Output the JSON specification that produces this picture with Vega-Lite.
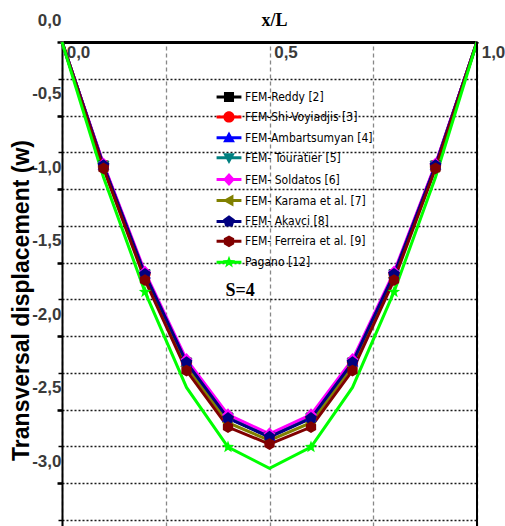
{
  "$schema": "https://vega.github.io/schema/vega-lite/v6.json",
  "width": 415,
  "height": 484,
  "autosize": {"type": "none"},
  "padding": {"left": 62, "top": 42, "right": 28, "bottom": 0},
  "background": "white",
  "config": {
    "view": {"stroke": null},
    "locale": {"number": {"decimal": ",", "thousands": ".", "grouping": [3], "currency": ["", ""], "minus": "-"}}
  },
  "resolve": {
    "axis": {"y": "independent"},
    "scale": {"shape": "independent"},
    "legend": {"color": "independent", "shape": "independent"}
  },
  "datasets": {
    "curves": [
      {"series": "FEM-Reddy [2]", "x": 0, "w": 0},
      {"series": "FEM-Reddy [2]", "x": 0.1, "w": -0.84},
      {"series": "FEM-Reddy [2]", "x": 0.2, "w": -1.58},
      {"series": "FEM-Reddy [2]", "x": 0.3, "w": -2.18},
      {"series": "FEM-Reddy [2]", "x": 0.4, "w": -2.555},
      {"series": "FEM-Reddy [2]", "x": 0.5, "w": -2.685},
      {"series": "FEM-Reddy [2]", "x": 0.6, "w": -2.555},
      {"series": "FEM-Reddy [2]", "x": 0.7, "w": -2.18},
      {"series": "FEM-Reddy [2]", "x": 0.8, "w": -1.58},
      {"series": "FEM-Reddy [2]", "x": 0.9, "w": -0.84},
      {"series": "FEM-Reddy [2]", "x": 1, "w": 0},
      {"series": "FEM-Shi-Voyiadjis [3]", "x": 0, "w": 0},
      {"series": "FEM-Shi-Voyiadjis [3]", "x": 0.1, "w": -0.838},
      {"series": "FEM-Shi-Voyiadjis [3]", "x": 0.2, "w": -1.578},
      {"series": "FEM-Shi-Voyiadjis [3]", "x": 0.3, "w": -2.178},
      {"series": "FEM-Shi-Voyiadjis [3]", "x": 0.4, "w": -2.553},
      {"series": "FEM-Shi-Voyiadjis [3]", "x": 0.5, "w": -2.68},
      {"series": "FEM-Shi-Voyiadjis [3]", "x": 0.6, "w": -2.553},
      {"series": "FEM-Shi-Voyiadjis [3]", "x": 0.7, "w": -2.178},
      {"series": "FEM-Shi-Voyiadjis [3]", "x": 0.8, "w": -1.578},
      {"series": "FEM-Shi-Voyiadjis [3]", "x": 0.9, "w": -0.838},
      {"series": "FEM-Shi-Voyiadjis [3]", "x": 1, "w": 0},
      {"series": "FEM-Ambartsumyan [4]", "x": 0, "w": 0},
      {"series": "FEM-Ambartsumyan [4]", "x": 0.1, "w": -0.838},
      {"series": "FEM-Ambartsumyan [4]", "x": 0.2, "w": -1.578},
      {"series": "FEM-Ambartsumyan [4]", "x": 0.3, "w": -2.178},
      {"series": "FEM-Ambartsumyan [4]", "x": 0.4, "w": -2.553},
      {"series": "FEM-Ambartsumyan [4]", "x": 0.5, "w": -2.682},
      {"series": "FEM-Ambartsumyan [4]", "x": 0.6, "w": -2.553},
      {"series": "FEM-Ambartsumyan [4]", "x": 0.7, "w": -2.178},
      {"series": "FEM-Ambartsumyan [4]", "x": 0.8, "w": -1.578},
      {"series": "FEM-Ambartsumyan [4]", "x": 0.9, "w": -0.838},
      {"series": "FEM-Ambartsumyan [4]", "x": 1, "w": 0},
      {"series": "FEM- Touratier [5]", "x": 0, "w": 0},
      {"series": "FEM- Touratier [5]", "x": 0.1, "w": -0.84},
      {"series": "FEM- Touratier [5]", "x": 0.2, "w": -1.58},
      {"series": "FEM- Touratier [5]", "x": 0.3, "w": -2.18},
      {"series": "FEM- Touratier [5]", "x": 0.4, "w": -2.555},
      {"series": "FEM- Touratier [5]", "x": 0.5, "w": -2.685},
      {"series": "FEM- Touratier [5]", "x": 0.6, "w": -2.555},
      {"series": "FEM- Touratier [5]", "x": 0.7, "w": -2.18},
      {"series": "FEM- Touratier [5]", "x": 0.8, "w": -1.58},
      {"series": "FEM- Touratier [5]", "x": 0.9, "w": -0.84},
      {"series": "FEM- Touratier [5]", "x": 1, "w": 0},
      {"series": "FEM- Soldatos [6]", "x": 0, "w": 0},
      {"series": "FEM- Soldatos [6]", "x": 0.1, "w": -0.83},
      {"series": "FEM- Soldatos [6]", "x": 0.2, "w": -1.565},
      {"series": "FEM- Soldatos [6]", "x": 0.3, "w": -2.16},
      {"series": "FEM- Soldatos [6]", "x": 0.4, "w": -2.535},
      {"series": "FEM- Soldatos [6]", "x": 0.5, "w": -2.665},
      {"series": "FEM- Soldatos [6]", "x": 0.6, "w": -2.535},
      {"series": "FEM- Soldatos [6]", "x": 0.7, "w": -2.16},
      {"series": "FEM- Soldatos [6]", "x": 0.8, "w": -1.565},
      {"series": "FEM- Soldatos [6]", "x": 0.9, "w": -0.83},
      {"series": "FEM- Soldatos [6]", "x": 1, "w": 0},
      {"series": "FEM- Karama et al. [7]", "x": 0, "w": 0},
      {"series": "FEM- Karama et al. [7]", "x": 0.1, "w": -0.85},
      {"series": "FEM- Karama et al. [7]", "x": 0.2, "w": -1.6},
      {"series": "FEM- Karama et al. [7]", "x": 0.3, "w": -2.205},
      {"series": "FEM- Karama et al. [7]", "x": 0.4, "w": -2.59},
      {"series": "FEM- Karama et al. [7]", "x": 0.5, "w": -2.71},
      {"series": "FEM- Karama et al. [7]", "x": 0.6, "w": -2.59},
      {"series": "FEM- Karama et al. [7]", "x": 0.7, "w": -2.205},
      {"series": "FEM- Karama et al. [7]", "x": 0.8, "w": -1.6},
      {"series": "FEM- Karama et al. [7]", "x": 0.9, "w": -0.85},
      {"series": "FEM- Karama et al. [7]", "x": 1, "w": 0},
      {"series": "FEM- Akavci [8]", "x": 0, "w": 0},
      {"series": "FEM- Akavci [8]", "x": 0.1, "w": -0.84},
      {"series": "FEM- Akavci [8]", "x": 0.2, "w": -1.58},
      {"series": "FEM- Akavci [8]", "x": 0.3, "w": -2.18},
      {"series": "FEM- Akavci [8]", "x": 0.4, "w": -2.56},
      {"series": "FEM- Akavci [8]", "x": 0.5, "w": -2.687},
      {"series": "FEM- Akavci [8]", "x": 0.6, "w": -2.56},
      {"series": "FEM- Akavci [8]", "x": 0.7, "w": -2.18},
      {"series": "FEM- Akavci [8]", "x": 0.8, "w": -1.58},
      {"series": "FEM- Akavci [8]", "x": 0.9, "w": -0.84},
      {"series": "FEM- Akavci [8]", "x": 1, "w": 0},
      {"series": "FEM- Ferreira et al. [9]", "x": 0, "w": 0},
      {"series": "FEM- Ferreira et al. [9]", "x": 0.1, "w": -0.86},
      {"series": "FEM- Ferreira et al. [9]", "x": 0.2, "w": -1.62},
      {"series": "FEM- Ferreira et al. [9]", "x": 0.3, "w": -2.235},
      {"series": "FEM- Ferreira et al. [9]", "x": 0.4, "w": -2.62},
      {"series": "FEM- Ferreira et al. [9]", "x": 0.5, "w": -2.735},
      {"series": "FEM- Ferreira et al. [9]", "x": 0.6, "w": -2.62},
      {"series": "FEM- Ferreira et al. [9]", "x": 0.7, "w": -2.235},
      {"series": "FEM- Ferreira et al. [9]", "x": 0.8, "w": -1.62},
      {"series": "FEM- Ferreira et al. [9]", "x": 0.9, "w": -0.86},
      {"series": "FEM- Ferreira et al. [9]", "x": 1, "w": 0},
      {"series": "Pagano [12]", "x": 0, "w": 0},
      {"series": "Pagano [12]", "x": 0.1, "w": -0.92},
      {"series": "Pagano [12]", "x": 0.2, "w": -1.7},
      {"series": "Pagano [12]", "x": 0.3, "w": -2.35},
      {"series": "Pagano [12]", "x": 0.4, "w": -2.755},
      {"series": "Pagano [12]", "x": 0.5, "w": -2.9},
      {"series": "Pagano [12]", "x": 0.6, "w": -2.755},
      {"series": "Pagano [12]", "x": 0.7, "w": -2.35},
      {"series": "Pagano [12]", "x": 0.8, "w": -1.7},
      {"series": "Pagano [12]", "x": 0.9, "w": -0.92},
      {"series": "Pagano [12]", "x": 1, "w": 0}
    ],
    "note": [{"x": 0.429, "w": -1.694, "label": "S=4"}]
  },
  "layer": [
    {
      "data": {"name": "note"},
      "mark": {"type": "text", "font": "Liberation Serif", "fontWeight": "bold", "fontSize": 18, "baseline": "middle", "align": "center", "color": "black"},
      "encoding": {
        "x": {"field": "x", "type": "quantitative", "scale": {"domain": [0, 1], "nice": false, "zero": false}},
        "y": {
          "field": "w", "type": "quantitative",
          "scale": {"domain": [-3.2925, 0], "nice": false, "zero": false},
          "axis": {
            "orient": "left",
            "values": [-0.25, -0.5, -0.75, -1, -1.25, -1.5, -1.75, -2, -2.25, -2.5, -2.75, -3, -3.25],
            "grid": true, "gridColor": "#1a1a1a", "gridDash": [2, 2], "gridWidth": 1.3,
            "domain": false, "labels": false,
            "ticks": true, "tickColor": "black", "tickSize": 4, "tickWidth": 1.5,
            "title": null
          }
        },
        "text": {"field": "label"}
      }
    },
    {
      "data": {"name": "curves"},
      "mark": {"type": "line", "strokeWidth": 3},
      "encoding": {
        "x": {
          "field": "x", "type": "quantitative",
          "scale": {"domain": [0, 1], "nice": false, "zero": false},
          "axis": {
            "orient": "top",
            "values": [0, 0.25, 0.5, 0.75, 1],
            "grid": true, "gridColor": "#888888", "gridDash": [4, 3], "gridWidth": 1.3,
            "domain": true, "domainColor": "black", "domainWidth": 3,
            "ticks": false,
            "labelExpr": "(datum.value == 0.25 || datum.value == 0.75) ? '' : format(datum.value, '.1f')",
            "labelFont": "Liberation Sans", "labelFontSize": 17, "labelFontWeight": "bold", "labelColor": "#3a3a3a",
            "labelPadding": -10, "labelBaseline": "middle", "labelOffset": 16, "labelAlign": "center",
            "labelOverlap": false, "labelFlush": false, "labelBound": false,
            "title": "x/L", "titleFont": "Liberation Serif", "titleFontSize": 18, "titleFontWeight": "bold", "titleColor": "black",
            "titleX": 212, "titleY": -17, "titleBaseline": "alphabetic", "titleAlign": "center"
          }
        },
        "y": {
          "field": "w", "type": "quantitative",
          "scale": {"domain": [-3.2925, 0], "nice": false, "zero": false},
          "axis": {
            "orient": "left",
            "values": [0, -0.5, -1, -1.5, -2, -2.5, -3],
            "format": ".1f",
            "grid": false,
            "domain": true, "domainColor": "black", "domainWidth": 2,
            "ticks": true, "tickColor": "black", "tickSize": 5, "tickWidth": 2.5,
            "labelFont": "Liberation Sans", "labelFontSize": 17, "labelFontWeight": "bold", "labelColor": "#3a3a3a",
            "labelPadding": -4, "labelOffset": -22, "labelBaseline": "middle", "labelAlign": "right",
            "labelOverlap": false, "labelFlush": false, "labelBound": false,
            "title": "Transversal displacement (w)", "titleFont": "Liberation Sans", "titleFontSize": 23, "titleFontWeight": "bold", "titleColor": "black",
            "titleX": -34, "titleY": 258, "titleAngle": 270, "titleAlign": "center", "titleBaseline": "alphabetic"
          }
        },
        "color": {
          "field": "series", "type": "nominal",
          "scale": {
            "domain": ["FEM-Reddy [2]", "FEM-Shi-Voyiadjis [3]", "FEM-Ambartsumyan [4]", "FEM- Touratier [5]", "FEM- Soldatos [6]", "FEM- Karama et al. [7]", "FEM- Akavci [8]", "FEM- Ferreira et al. [9]", "Pagano [12]"],
            "range": ["#000000", "#ff0000", "#0000ff", "#008080", "#ff00ff", "#808000", "#000080", "#800000", "#00ff00"]
          },
          "legend": null
        }
      }
    },
    {
      "data": {"name": "curves"},
      "transform": [
        {"filter": "datum.x > 0.05 && datum.x < 0.95 && (datum.series != 'Pagano [12]' || round(datum.x * 10) % 2 == 0)"}
      ],
      "mark": {"type": "point", "filled": true, "size": 140, "opacity": 1},
      "encoding": {
        "x": {"field": "x", "type": "quantitative"},
        "y": {"field": "w", "type": "quantitative", "axis": null},
        "color": {"field": "series", "type": "nominal", "legend": null},
        "shape": {
          "field": "series", "type": "nominal",
          "scale": {
            "domain": ["FEM-Reddy [2]", "FEM-Shi-Voyiadjis [3]", "FEM-Ambartsumyan [4]", "FEM- Touratier [5]", "FEM- Soldatos [6]", "FEM- Karama et al. [7]", "FEM- Akavci [8]", "FEM- Ferreira et al. [9]", "Pagano [12]"],
            "range": [
              "M-0.85,-0.85H0.85V0.85H-0.85Z",
              "M0.95,0A0.95,0.95,0,1,1,-0.95,0A0.95,0.95,0,1,1,0.95,0Z",
              "M0,-1.05L1,0.75H-1Z",
              "M-1,-0.75H1L0,1.05Z",
              "M0,-1.1L1,0L0,1.1L-1,0Z",
              "M-1.05,0L0.75,-1V1Z",
              "M0,-1.05L1,-0.32L0.62,0.85H-0.62L-1,-0.32Z",
              "M0,-1L0.87,-0.5V0.5L0,1L-0.87,0.5V-0.5Z",
              "M0,-1.1L0.265,-0.364L1.046,-0.34L0.428,0.139L0.647,0.89L0,0.45L-0.647,0.89L-0.428,0.139L-1.046,-0.34L-0.265,-0.364Z"
            ]
          },
          "legend": null
        }
      }
    },
    {
      "data": {"values": [{"edge": 1}]},
      "mark": {"type": "rule", "color": "black", "strokeWidth": 2},
      "encoding": {"x": {"field": "edge", "type": "quantitative"}}
    },
    {
      "data": {"name": "curves"},
      "transform": [{"filter": "datum.x == 0"}],
      "mark": {"type": "point", "filled": true, "size": 140, "opacity": 0},
      "encoding": {
        "x": {"field": "x", "type": "quantitative"},
        "y": {"field": "w", "type": "quantitative", "axis": null},
        "color": {
          "field": "series", "type": "nominal",
          "legend": {
            "orient": "none", "legendX": 161, "legendY": 49,
            "title": null, "padding": 0,
            "symbolSize": 140, "symbolStrokeWidth": 0, "symbolOpacity": 1,
            "labelFont": "Liberation Sans Narrow, DejaVu Sans Condensed, Arial Narrow, sans-serif", "labelFontSize": 12, "labelColor": "black",
            "labelOffset": 10, "rowPadding": 7.9, "labelLimit": 300
          }
        },
        "shape": {
          "field": "series", "type": "nominal",
          "scale": {
            "domain": ["FEM-Reddy [2]", "FEM-Shi-Voyiadjis [3]", "FEM-Ambartsumyan [4]", "FEM- Touratier [5]", "FEM- Soldatos [6]", "FEM- Karama et al. [7]", "FEM- Akavci [8]", "FEM- Ferreira et al. [9]", "Pagano [12]"],
            "range": [
              "M-2.1,-0.25H2.1V0.25H-2.1ZM-0.85,-0.85H0.85V0.85H-0.85Z",
              "M-2.1,-0.25H2.1V0.25H-2.1ZM0.95,0A0.95,0.95,0,1,1,-0.95,0A0.95,0.95,0,1,1,0.95,0Z",
              "M-2.1,-0.25H2.1V0.25H-2.1ZM0,-1.05L1,0.75H-1Z",
              "M-2.1,-0.25H2.1V0.25H-2.1ZM-1,-0.75H1L0,1.05Z",
              "M-2.1,-0.25H2.1V0.25H-2.1ZM0,-1.1L1,0L0,1.1L-1,0Z",
              "M-2.1,-0.25H2.1V0.25H-2.1ZM-1.05,0L0.75,-1V1Z",
              "M-2.1,-0.25H2.1V0.25H-2.1ZM0,-1.05L1,-0.32L0.62,0.85H-0.62L-1,-0.32Z",
              "M-2.1,-0.25H2.1V0.25H-2.1ZM0,-1L0.87,-0.5V0.5L0,1L-0.87,0.5V-0.5Z",
              "M-2.1,-0.25H2.1V0.25H-2.1ZM0,-1.1L0.265,-0.364L1.046,-0.34L0.428,0.139L0.647,0.89L0,0.45L-0.647,0.89L-0.428,0.139L-1.046,-0.34L-0.265,-0.364Z"
            ]
          },
          "legend": {
            "orient": "none", "legendX": 161, "legendY": 49,
            "title": null, "padding": 0,
            "symbolSize": 140, "symbolStrokeWidth": 0, "symbolOpacity": 1,
            "labelFont": "Liberation Sans Narrow, DejaVu Sans Condensed, Arial Narrow, sans-serif", "labelFontSize": 12, "labelColor": "black",
            "labelOffset": 10, "rowPadding": 7.9, "labelLimit": 300
          }
        }
      }
    }
  ]
}
